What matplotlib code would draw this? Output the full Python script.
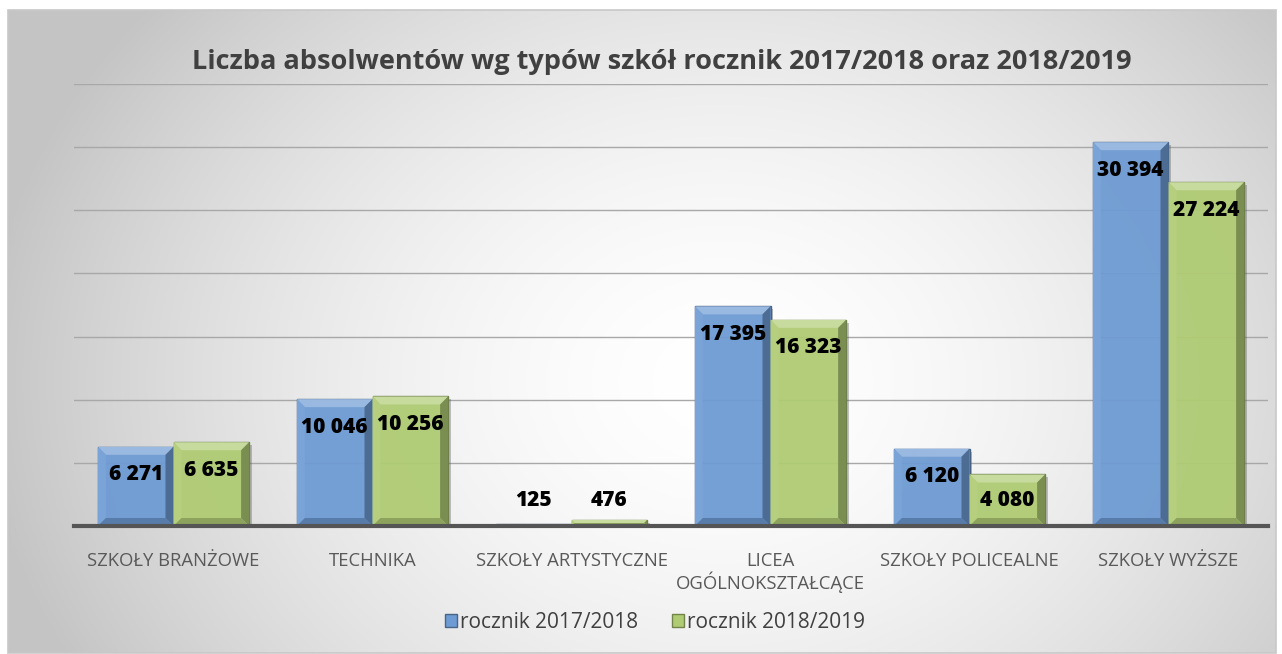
import numpy as np
import matplotlib
matplotlib.use("Agg")
import matplotlib.pyplot as plt
from matplotlib.patches import Polygon, Rectangle
from matplotlib.colors import to_rgb

categories = ["SZKOŁY BRANŻOWE", "TECHNIKA", "SZKOŁY ARTYSTYCZNE",
              "LICEA\nOGÓLNOKSZTAŁCĄCE", "SZKOŁY POLICEALNE", "SZKOŁY WYŻSZE"]
series_names = ["rocznik 2017/2018", "rocznik 2018/2019"]
values_2017 = [6271, 10046, 125, 17395, 6120, 30394]
values_2018 = [6635, 10256, 476, 16323, 4080, 27224]
title = "Liczba absolwentów wg typów szkół rocznik 2017/2018 oraz 2018/2019"

FONT = ["Open Sans", "DejaVu Sans"]
plt.rcParams["font.family"] = FONT

W, H = 1282, 654
fig = plt.figure(figsize=(W / 100, H / 100), dpi=100)
fig.patch.set_facecolor("white")

# background gradient panel
bg = fig.add_axes([0, 0, 1, 1], zorder=-10)
bg.set_xlim(0, W)
bg.set_ylim(H, 0)
bg.axis("off")
yy, xx = np.mgrid[0:H, 0:W]
cx, cy = 720, 380
d = np.sqrt(((xx - cx) / 1.0) ** 2 + ((yy - cy) / 0.8) ** 2)
t = np.clip(d / 740, 0, 1) ** 1.7
light = np.array([1.0, 1.0, 1.0])
dark = np.array([0.77, 0.77, 0.77])
img = light[None, None, :] * (1 - t[..., None]) + dark[None, None, :] * t[..., None]
fx0, fy0, fx1, fy1 = 8, 10, 1276, 653
bg.imshow(img[fy0:fy1, fx0:fx1], extent=(fx0, fx1, fy1, fy0), aspect="auto", interpolation="bilinear")
bg.add_patch(Rectangle((fx0, fy0), fx1 - fx0, fy1 - fy0, fill=False, ec="#c8c8c8", lw=1.2))

ax = fig.add_axes([74 / W, 1 - 526 / H, (1268 - 74) / W, (526 - 84) / H])
ax.patch.set_alpha(0)
n = len(categories)
x = np.arange(n)
ax.set_xlim(-0.5, n - 0.5)
ax.set_ylim(0, 35000)
ax.set_yticks(np.arange(5000, 35001, 5000))
ax.tick_params(axis="y", left=False, labelleft=False)
ax.tick_params(axis="x", bottom=False, length=0, pad=19)
ax.set_xticks(x)
ax.set_xticklabels(categories, fontsize=13.3, color="#595959", linespacing=1.05)
ax.grid(axis="y", color="#a8a8a8", lw=1.0, zorder=0)
for s in ["top", "right", "left"]:
    ax.spines[s].set_visible(False)
ax.spines["bottom"].set_color("#555555")
ax.spines["bottom"].set_linewidth(3)
ax.spines["bottom"].set_zorder(6)

bw = 0.38
colors = ["#6e9bd3", "#afcb74"]
series = [values_2017, values_2018]

fig.canvas.draw()
px_per_x = ax.transData.transform((1, 0))[0] - ax.transData.transform((0, 0))[0]
px_per_y = ax.transData.transform((0, 1000))[1] - ax.transData.transform((0, 0))[1]
px_per_y /= 1000.0


def shade(c, f):
    r = np.array(to_rgb(c))
    if f > 0:
        return tuple(r + (1 - r) * f)
    return tuple(r * (1 + f))


for k, (vals, col) in enumerate(zip(series, colors)):
    offs = (k - 0.5) * bw
    bars = ax.bar(x + offs, vals, width=bw, color=col, edgecolor=shade(col, -0.4),
                  linewidth=1.0, zorder=3, alpha=0.95)
    for b, v in zip(bars, vals):
        x0 = b.get_x()
        x1 = x0 + b.get_width()
        y1 = b.get_height()
        hpx = y1 * px_per_y
        bpx = min(8.0, hpx / 2.0)
        dx = bpx / px_per_x
        dy = bpx / px_per_y
        top = Polygon([(x0, y1), (x1, y1), (x1 - dx, y1 - dy), (x0 + dx, y1 - dy)],
                      closed=True, fc=shade(col, 0.3), ec="none", zorder=4)
        left = Polygon([(x0, 0), (x0, y1), (x0 + dx, y1 - dy), (x0 + dx, dy)],
                       closed=True, fc=shade(col, 0.08), ec="none", zorder=4)
        right = Polygon([(x1, 0), (x1, y1), (x1 - dx, y1 - dy), (x1 - dx, dy)],
                        closed=True, fc=shade(col, -0.3), ec="none", zorder=4)
        bot = Polygon([(x0, 0), (x1, 0), (x1 - dx, dy), (x0 + dx, dy)],
                      closed=True, fc=shade(col, -0.2), ec="none", zorder=4)
        for p in (top, left, right, bot):
            ax.add_patch(p)
        ax.add_patch(Rectangle((x1, 0), 2.5 / px_per_x, max(y1 - 3 / px_per_y, 0),
                               fc="#555555", alpha=0.35, ec="none", zorder=2))
        ly = max(v - 28 / px_per_y, 25 / px_per_y)
        label = f"{v:,}".replace(",", " ")
        ax.text(b.get_x() + b.get_width() / 2, ly, label, ha="center", va="center",
                fontsize=15, fontweight="heavy", color="black", zorder=7)

fig.text(662 / W, 1 - 62 / H, title, ha="center", va="center", fontsize=19.5,
         fontweight="bold", color="#404040")

handles = [Rectangle((0, 0), 1, 1, fc=c, ec=shade(c, -0.35)) for c in colors]
fig.legend(handles, series_names, loc="center", bbox_to_anchor=(655 / W, 1 - 622 / H),
           ncol=2, frameon=False, fontsize=15, handlelength=0.6, handleheight=0.6,
           handletextpad=0.15, columnspacing=1.6, labelcolor="#404040")

fig.savefig("out.png", dpi=100)
